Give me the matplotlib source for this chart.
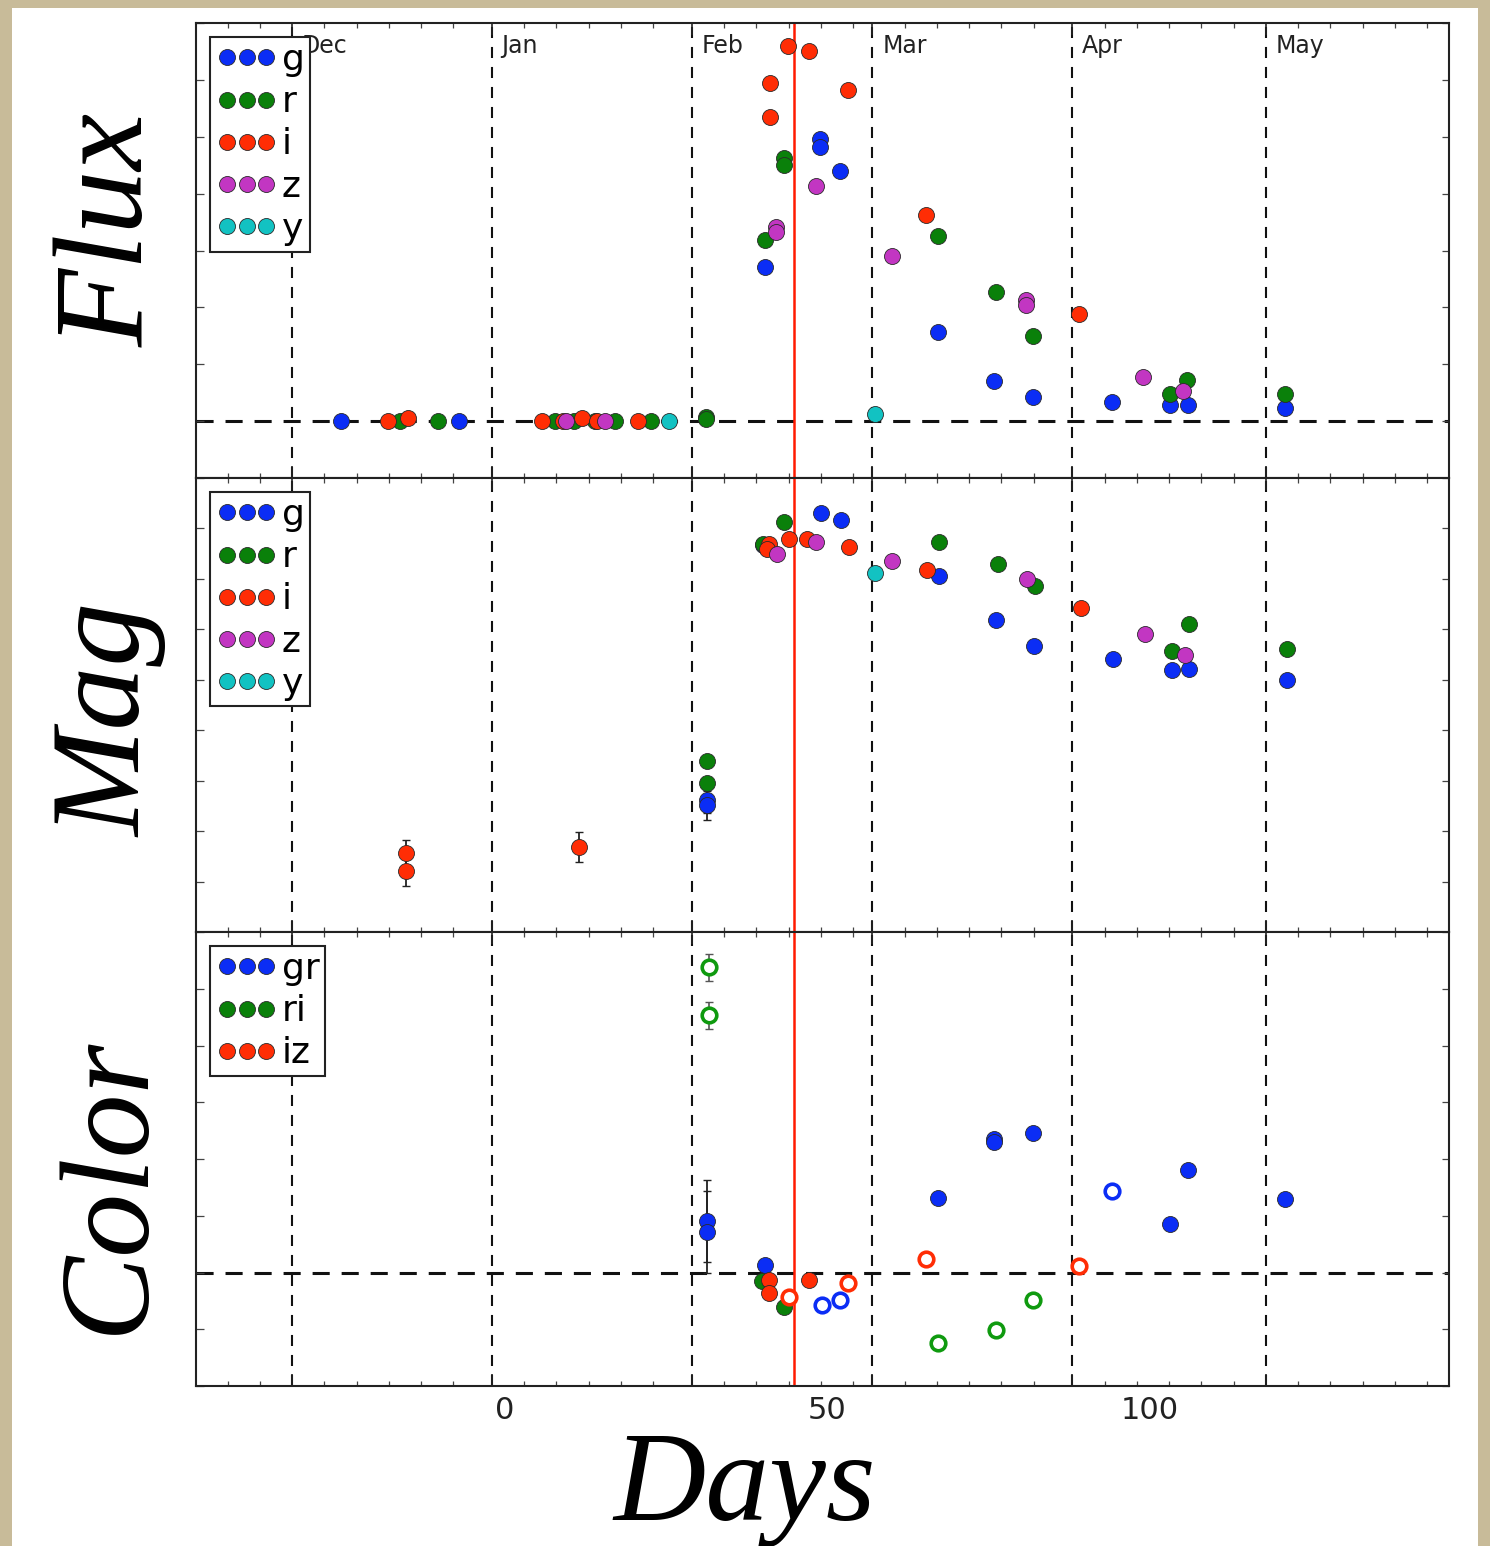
import matplotlib
matplotlib.use("Agg")
import matplotlib.pyplot as plt
from matplotlib.patches import Rectangle
import numpy as np

# calendar: days since 0, with month boundaries
month_names = ["Dec", "Jan", "Feb", "Mar", "Apr", "May"]
month_starts = [-33, -2, 29, 57, 88, 118]
peak_day = 44.8
day_ticks = [0, 50, 100]

# --- flux light curves (arbitrary units) ---
flux_g_day = [-25.4, -7.1, 48.9, 48.9, 52.0, 40.3, 67.2, 75.9, 81.9, 94.1, 103.1, 105.9, 120.9]
flux_g_val = [0.0, 0.0, 4.96, 4.82, 4.40, 2.71, 1.57, 0.70, 0.42, 0.33, 0.28, 0.28, 0.23]
flux_r_day = [-16.3, -10.3, 7.8, 10.7, 14.0, 17.0, 22.6, 31.2, 31.2, 43.3, 43.3, 40.3, 67.2, 76.2, 81.9, 103.1, 105.8, 120.9]
flux_r_val = [0.0, 0.0, 0.0, 0.0, 0.0, 0.0, 0.0, 0.07, 0.03, 4.63, 4.51, 3.18, 3.25, 2.27, 1.50, 0.47, 0.73, 0.47]
flux_i_day = [-18.1, -15.1, 5.7, 9.0, 11.9, 14.3, 20.6, 43.9, 47.1, 41.1, 53.2, 41.1, 65.3, 89.1]
flux_i_val = [0.0, 0.05, 0.0, 0.0, 0.05, 0.0, 0.0, 6.60, 6.50, 5.95, 5.82, 5.34, 3.63, 1.89]
flux_z_day = [9.5, 15.5, 42.1, 42.1, 48.2, 60.0, 80.8, 80.8, 99.0, 105.1]
flux_z_val = [0.0, 0.0, 3.42, 3.32, 4.14, 2.91, 2.13, 2.05, 0.77, 0.53]
flux_y_day = [25.4, 57.4]
flux_y_val = [0.0, 0.12]

# --- magnitudes (scaled, brighter is higher) ---
mag_g_day = [49.0, 52.1, 40.1, 67.3, 76.2, 82.1, 94.3, 103.5, 106.1, 121.3, 31.3, 31.3]
mag_g_val = [8.30, 8.17, 7.67, 7.05, 6.18, 5.66, 5.42, 5.19, 5.22, 4.99, 2.61, 2.51]
mag_g_err = [0, 0, 0, 0, 0, 0, 0, 0, 0, 0, 0.25, 0.28]
mag_r_day = [43.3, 40.1, 67.3, 76.4, 82.2, 106.1, 103.5, 121.3, 31.3, 31.3]
mag_r_val = [8.13, 7.70, 7.74, 7.30, 6.85, 6.10, 5.57, 5.62, 3.39, 2.96]
mag_r_err = [0, 0, 0, 0, 0, 0, 0, 0, 0, 0]
mag_i_day = [41.0, 40.7, 44.1, 46.9, 53.3, 65.4, 89.4, -15.3, -15.3, 11.5]
mag_i_val = [7.70, 7.60, 7.80, 7.80, 7.64, 7.17, 6.43, 1.56, 1.21, 1.69]
mag_i_err = [0, 0, 0, 0, 0, 0, 0, 0.27, 0.30, 0.30]
mag_z_day = [42.2, 48.3, 60.0, 80.9, 99.3, 105.4]
mag_z_val = [7.50, 7.73, 7.35, 7.00, 5.90, 5.50]
mag_y_day = [57.4]
mag_y_val = [7.11]

# --- colours (filled = measured, open = limits) ---
gr_day = [31.3, 31.3, 40.3, 67.2, 75.9, 75.9, 81.9, 103.1, 105.9, 120.9]
gr_val = [0.91, 0.71, 0.13, 1.32, 2.35, 2.30, 2.46, 0.85, 1.80, 1.29]
gr_err = [0.72, 0.72, 0, 0, 0, 0, 0, 0, 0, 0]
gr_open_day = [49.1, 52.0, 94.1]
gr_open_val = [-0.58, -0.49, 1.44]
ri_day = [39.8, 43.3]
ri_val = [-0.15, -0.60]
ri_open_day = [31.7, 31.7, 67.2, 76.2, 81.9]
ri_open_val = [5.38, 4.53, -1.25, -1.01, -0.49]
ri_open_err = [0.24, 0.24, 0, 0, 0]
iz_day = [41.0, 41.0, 47.2]
iz_val = [-0.14, -0.37, -0.14]
iz_open_day = [44.1, 53.2, 65.3, 89.0]
iz_open_val = [-0.43, -0.18, 0.24, 0.12]

BLUE = "#0b2df5"
GREEN = "#0a800a"
RED = "#ff2d05"
MAGENTA = "#c236c2"
CYAN = "#12c2c2"
EDGE = "#2a2a2a"
MS = 11.5

W, H = 1490, 1546
fig = plt.figure(figsize=(W / 100, H / 100), dpi=100, facecolor="#c8bb99")
fig.patches.append(Rectangle((12 / W, 0), (1478 - 12) / W, 1 - 8 / H,
                             transform=fig.transFigure, facecolor="white",
                             edgecolor="none", zorder=-10))

left, width = 196 / W, 1253 / W
ax_flux = fig.add_axes([left, 1 - 478 / H, width, 455 / H])
ax_mag = fig.add_axes([left, 1 - 932 / H, width, 454 / H], sharex=ax_flux)
ax_col = fig.add_axes([left, 1 - 1386 / H, width, 454 / H], sharex=ax_flux)

xmin, xmax = -47.9, 146.4
minor_days = [m + k for m in [-63] + month_starts for k in (5, 10, 15, 20, 25)]
minor_days = [d for d in minor_days if xmin < d < xmax]


def setup(ax, ylo, yhi):
    ax.set_xlim(xmin, xmax)
    ax.set_ylim(ylo, yhi)
    ax.set_xticks(month_starts)
    ax.set_xticks(minor_days, minor=True)
    ax.set_yticks(np.arange(ylo, yhi + 1))
    ax.tick_params(labelbottom=False, labelleft=False)
    ax.tick_params(axis="x", which="major", direction="in", length=8.5, width=1.2,
                   top=True, bottom=True, color="#222222")
    ax.tick_params(axis="x", which="minor", direction="in", length=3.6, width=0.9,
                   top=True, bottom=True, color="#444444")
    ax.tick_params(axis="y", which="major", direction="in", length=5.4, width=0.9,
                   left=True, right=True, color="#444444")
    for s in ax.spines.values():
        s.set_linewidth(1.5)
        s.set_color("#222222")
    for m in month_starts:
        ax.axvline(m, color="#111111", ls=(0, (5.3, 4.3)), lw=1.5, zorder=1)
    ax.axvline(peak_day, color="#ff1a00", lw=1.8, zorder=1.5)


def filled(ax, days, vals, color, label=None, err=None):
    if err is not None and any(e > 0 for e in err):
        d = [x for x, e in zip(days, err) if e > 0]
        v = [y for y, e in zip(vals, err) if e > 0]
        e = [e for e in err if e > 0]
        ax.errorbar(d, v, yerr=e, fmt="none", ecolor="#222222", elinewidth=1.3,
                    capsize=3, capthick=1.0, zorder=2)
    return ax.plot(days, vals, "o", ms=MS, mfc=color, mec=EDGE, mew=0.6,
                   label=label, zorder=3)[0]


def hollow(ax, days, vals, color, err=None):
    if err is not None and any(e > 0 for e in err):
        d = [x for x, e in zip(days, err) if e > 0]
        v = [y for y, e in zip(vals, err) if e > 0]
        e = [e for e in err if e > 0]
        ax.errorbar(d, v, yerr=e, fmt="none", ecolor="#555555", elinewidth=1.2,
                    capsize=3, capthick=1.0, zorder=2)
    ax.plot(days, vals, "o", ms=MS - 1.0, mfc="white", mec=color, mew=2.6, zorder=3)


def legend(ax):
    leg = ax.legend(loc="upper left", numpoints=3, fontsize=26, handlelength=1.7,
                    handletextpad=0.12, labelspacing=0.23, borderpad=0.15,
                    borderaxespad=0.4, fancybox=False, framealpha=1)
    leg.get_frame().set_edgecolor("#222222")
    leg.get_frame().set_linewidth(1.5)
    leg.set_zorder(10)


# flux panel
setup(ax_flux, -1, 7)
ax_flux.axhline(0, color="#111111", ls=(0, (5.6, 3.9)), lw=2.2, zorder=1)
filled(ax_flux, flux_g_day, flux_g_val, BLUE, "g")
filled(ax_flux, flux_r_day, flux_r_val, GREEN, "r")
filled(ax_flux, flux_i_day, flux_i_val, RED, "i")
filled(ax_flux, flux_z_day, flux_z_val, MAGENTA, "z")
filled(ax_flux, flux_y_day, flux_y_val, CYAN, "y")
for name, m in zip(month_names, month_starts):
    ax_flux.text(m + 1.5, 0.975, name, transform=ax_flux.get_xaxis_transform(),
                 fontsize=17, color="#222222", va="top", ha="left", zorder=2)
legend(ax_flux)

# magnitude panel
setup(ax_mag, 0, 9)
filled(ax_mag, mag_g_day, mag_g_val, BLUE, "g", mag_g_err)
filled(ax_mag, mag_r_day, mag_r_val, GREEN, "r", mag_r_err)
filled(ax_mag, mag_i_day, mag_i_val, RED, "i", mag_i_err)
filled(ax_mag, mag_z_day, mag_z_val, MAGENTA, "z")
filled(ax_mag, mag_y_day, mag_y_val, CYAN, "y")
legend(ax_mag)

# colour panel
setup(ax_col, -2, 6)
ax_col.axhline(0, color="#111111", ls=(0, (5.6, 3.9)), lw=2.2, zorder=1)
filled(ax_col, gr_day, gr_val, BLUE, "gr", gr_err)
filled(ax_col, ri_day, ri_val, GREEN, "ri")
filled(ax_col, iz_day, iz_val, RED, "iz")
hollow(ax_col, gr_open_day, gr_open_val, BLUE)
hollow(ax_col, ri_open_day, ri_open_val, "#0f9a0f", ri_open_err)
hollow(ax_col, iz_open_day, iz_open_val, RED)
legend(ax_col)

# day numbers along the bottom
sec = ax_col.secondary_xaxis("bottom")
sec.set_xticks(day_ticks)
sec.tick_params(length=0, labelsize=22, pad=7, labelcolor="#222222")
sec.spines["bottom"].set_visible(False)

label_font = dict(family="Liberation Serif", style="italic", fontsize=92, color="black")
fig.text(143 / W, 1 - 230 / H, "Flux", rotation=90, rotation_mode="anchor",
         ha="center", va="baseline", **label_font)
fig.text(140 / W, 1 - 720 / H, "Mag", rotation=90, rotation_mode="anchor",
         ha="center", va="baseline", **label_font)
fig.text(142 / W, 1 - 1185 / H, "Color", rotation=90, rotation_mode="anchor",
         ha="center", va="baseline", **label_font)
fig.text(0.5, 1 - 1520 / H, "Days", ha="center", va="baseline", **label_font)

fig.savefig("out.png", dpi=100, facecolor=fig.get_facecolor())
